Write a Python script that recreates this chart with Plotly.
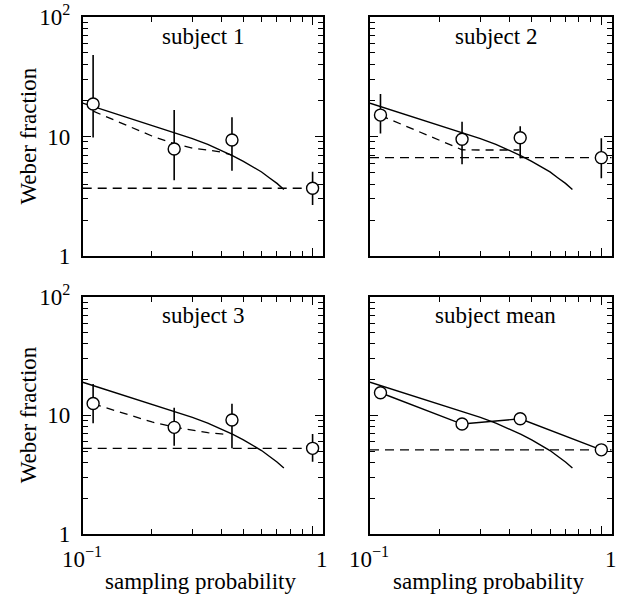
import plotly.graph_objects as go
from plotly.subplots import make_subplots

# ---------------- data ----------------
p_samp = [0.111, 0.25, 0.446, 1.0]

s1 = [18.7, 7.86, 9.35, 3.69]
s1_hi = [48.0, 16.7, 14.5, 5.07]
s1_lo = [9.8, 4.3, 5.17, 2.67]

s2 = [15.1, 9.48, 9.77, 6.65]
s2_hi = [22.7, 13.3, 12.2, 9.66]
s2_lo = [10.6, 5.85, 6.57, 4.47]

s3 = [12.6, 7.92, 9.13, 5.27]
s3_hi = [18.4, 11.6, 12.5, 6.96]
s3_lo = [8.57, 5.55, 5.27, 4.06]

s_mean = [15.5, 8.45, 9.35, 5.12]

# common model prediction (solid curve)
model_p = [0.1, 0.15, 0.2, 0.25, 0.3, 0.35, 0.4, 0.45, 0.5, 0.55, 0.6, 0.65, 0.7, 0.75]
model_w = [19.0, 14.8, 12.3, 10.8, 9.6, 8.6, 7.7, 6.9, 6.2, 5.6, 5.05, 4.5, 4.05, 3.6]

# per-subject fits (dashed curves)
fit1_p = [0.111, 0.15, 0.2, 0.25, 0.3, 0.35, 0.4, 0.447]
fit1_w = [16.3, 12.8, 10.1, 8.7, 8.0, 7.7, 7.4, 7.0]
fit2_p = [0.111, 0.15, 0.2, 0.25, 0.3, 0.35, 0.4, 0.442]
fit2_w = [15.0, 11.8, 9.3, 7.75, 7.71, 7.71, 7.71, 7.71]
fit3_p = [0.111, 0.15, 0.2, 0.25, 0.3, 0.35, 0.4, 0.431]
fit3_w = [12.5, 10.4, 8.8, 7.95, 7.5, 7.15, 6.98, 6.9]

# level at sampling probability 1 (horizontal dashed lines)
levels = [3.69, 6.65, 5.27, 5.12]

titles = ["subject 1", "subject 2", "subject 3", "subject mean"]
x_ticklabels = ["10<sup>\u22121</sup>", "1"]
y_tickvals = [1, 10, 100]
y_ticktext = ["1", "10", "10<sup>2</sup>"]
x_minor = [0.2, 0.3, 0.4, 0.5, 0.6, 0.7, 0.8, 0.9]
y_minor = [2, 3, 4, 5, 6, 7, 8, 9, 20, 30, 40, 50, 60, 70, 80, 90]

# ---------------- figure ----------------
W, H = 617, 600
FONT = "Liberation Serif"
fig = make_subplots(rows=2, cols=2)


def px(xpix):
    return xpix / W


def py(ypix):
    return 1 - ypix / H


# panel pixel boxes: (left, right, top, bottom)
boxes = [(82.7, 322.7, 17, 256), (370, 611.5, 17, 256),
         (82.7, 322.7, 296.7, 534), (370, 611.5, 296.7, 534)]

line_k = dict(color="black", width=1.4)
marker_k = dict(symbol="circle", size=12, color="white",
                line=dict(color="black", width=1.4))


def add_subject(row, col, y, hi, lo, fp, fw):
    fig.add_trace(go.Scatter(x=model_p, y=model_w, mode="lines", line=line_k,
                             showlegend=False), row=row, col=col)
    fig.add_trace(go.Scatter(x=fp, y=fw, mode="lines",
                             line=dict(color="black", width=1.3, dash="8px,6px"),
                             showlegend=False), row=row, col=col)
    fig.add_trace(go.Scatter(
        x=p_samp, y=y, mode="markers", marker=marker_k, showlegend=False,
        cliponaxis=False,
        error_y=dict(type="data", symmetric=False,
                     array=[h - v for h, v in zip(hi, y)],
                     arrayminus=[v - l for v, l in zip(y, lo)],
                     color="black", thickness=1.6, width=0)),
        row=row, col=col)


add_subject(1, 1, s1, s1_hi, s1_lo, fit1_p, fit1_w)
add_subject(1, 2, s2, s2_hi, s2_lo, fit2_p, fit2_w)
add_subject(2, 1, s3, s3_hi, s3_lo, fit3_p, fit3_w)

fig.add_trace(go.Scatter(x=model_p, y=model_w, mode="lines", line=line_k,
                         showlegend=False), row=2, col=2)
fig.add_trace(go.Scatter(x=p_samp, y=s_mean, mode="lines+markers", line=line_k,
                         marker=marker_k, showlegend=False, cliponaxis=False),
              row=2, col=2)

axis_common = dict(showline=True, linecolor="black", linewidth=1.6,
                   mirror="allticks", ticks="inside", tickcolor="black",
                   tickwidth=1.3, showgrid=False, zeroline=False,
                   automargin=False, ticklabeloverflow="allow")

annotations = []
for i, (l, r, t, b) in enumerate(boxes):
    n = "" if i == 0 else str(i + 1)
    xd = [px(l), px(r)]
    yd = [py(b), py(t)]
    fig.layout["xaxis" + n].update(
        type="log", range=[-1, 0.044], domain=xd, tickvals=[0.1, 1],
        ticklen=8, showticklabels=False,
        minor=dict(ticks="inside", ticklen=5, tickwidth=1.2, tickcolor="black",
                   tickvals=x_minor, showgrid=False),
        **axis_common)
    fig.layout["yaxis" + n].update(
        type="log", range=[0, 2], domain=yd, tickvals=y_tickvals,
        ticktext=y_ticktext, ticklen=8, showticklabels=(i % 2 == 0),
        ticklabelstandoff=6,
        minor=dict(ticks="inside", ticklen=5, tickwidth=1.2, tickcolor="black",
                   tickvals=y_minor, showgrid=False),
        **axis_common)
    # horizontal level line across the panel
    fig.add_shape(type="line", xref="x" + n + " domain", yref="y" + n,
                  x0=0, x1=1, y0=levels[i], y1=levels[i], layer="below",
                  line=dict(color="black", width=1.3, dash="9px,6px"))
    # panel title
    tx = (l + r) / 2 + (0 if i % 2 == 0 else 5)
    annotations.append(dict(text=titles[i], xref="paper", yref="paper",
                            x=px(tx), y=py(t + 19), showarrow=False,
                            xanchor="center", yanchor="middle"))
    if i % 2 == 0:
        annotations.append(dict(text="Weber fraction", xref="paper", yref="paper",
                                x=px(28), y=py((t + b) / 2), textangle=-90,
                                showarrow=False, xanchor="center", yanchor="middle"))
    if i >= 2:
        annotations.append(dict(text=x_ticklabels[0], xref="paper", yref="paper",
                                x=px(l - 1), y=py(557), showarrow=False,
                                xanchor="center", yanchor="middle"))
        annotations.append(dict(text=x_ticklabels[1], xref="paper", yref="paper",
                                x=px(r - 1), y=py(559), showarrow=False,
                                xanchor="center", yanchor="middle"))
        annotations.append(dict(text="sampling probability", xref="paper",
                                yref="paper", x=px((l + r) / 2 - 2),
                                y=py(581), showarrow=False,
                                xanchor="center", yanchor="middle"))

fig.update_layout(
    width=W, height=H, margin=dict(l=0, r=0, t=0, b=0),
    paper_bgcolor="white", plot_bgcolor="white",
    font=dict(family=FONT, size=23, color="black"),
    annotations=annotations, showlegend=False)

# remove the default 8px page margin so the figure fills the window
fig.write_html("out.html",
               config={"displayModeBar": False},
               post_script="document.body.style.margin='0';"
                           "document.body.style.overflow='hidden';")
